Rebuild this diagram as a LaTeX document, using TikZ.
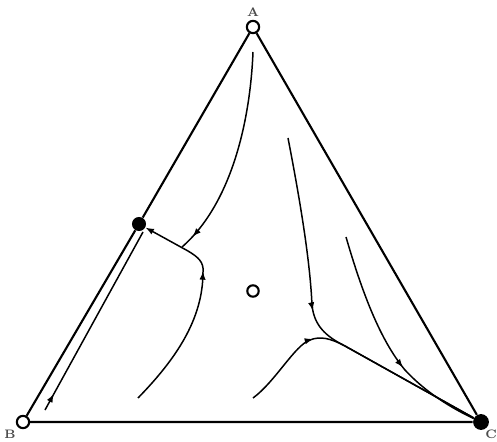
\documentclass[tikz,border=0pt]{standalone}
\usepackage{amsmath}
\usepackage{tikz}
\usetikzlibrary{calc,positioning,arrows.meta,decorations.markings}

\tikzset{
  opendot/.style={circle, draw, fill=white, line width=1.2pt, inner sep=0pt, minimum size=7pt},
  fulldot/.style={circle, fill=black, inner sep=0pt, minimum size=9pt},
  cornerlabel/.style={font=\scriptsize\bfseries, text=black!70, inner sep=0pt},
  simplexedge/.style={line width=1.2pt},
  flow/.style={line width=0.85pt},
  tip/.style={-{Latex[length=4.8pt,width=3.6pt]}},
  flowtip/.style={postaction={decorate}, decoration={markings,
      mark=at position #1 with {\arrow{Latex[length=4.8pt,width=3.6pt]}}}},
}

\begin{document}
\begin{tikzpicture}[x=0.02cm, y=-0.02cm]
\useasboundingbox (0,0) rectangle (497,442);

% corners of the simplex
\node[opendot] (vA) at (253,27) {};
\node[opendot] (vB) at (23,422) {};
\node[fulldot] (vC) at (481,422) {};
\node[fulldot, minimum size=8pt] (mAB) at (139,224) {};
\node[opendot, minimum size=6.5pt] (ctr) at (253,291) {};

\node[cornerlabel] (lA) at (253,12) {A};
\node[cornerlabel] (lB) at (10,434) {B};
\node[cornerlabel] (lC) at (491,434) {C};

% free ends of the trajectories
\coordinate (s1) at (253,52);
\coordinate (s2) at (138,398);
\coordinate (s3) at (45,410);
\coordinate (e3) at (143,232);
\coordinate (s4) at (288,138);
\coordinate (s5) at (253,398);
\coordinate (s6) at (346,237);
\coordinate (m1) at (182,247);

% edges
\draw[simplexedge] (vA) -- (mAB) -- (vB) -- (vC) -- (vA);

% trajectories
\draw[flow, flowtip=0.93] (s1) .. controls (250,125) and (230,205) .. (m1);
\draw[flow, tip, flowtip=0.66] (s2) .. controls (175,360) and (203,320) .. (203,272)
  .. controls (204,262) and (198,257) .. (188,251) -- (mAB);
\draw[flow, flowtip=0.09] (s3) -- (e3);
\draw[flow, flowtip=0.47] (s4) .. controls (300,200) and (310,260) .. (312,305)
  .. controls (314,325) and (325,336) .. (345,346) -- (vC);
\draw[flow, flowtip=0.32] (s5) .. controls (275,382) and (295,345) .. (310,340)
  .. controls (320,336) and (330,338) .. (345,346) -- (vC);
\draw[flow, flowtip=0.62] (s6) .. controls (362,292) and (380,340) .. (405,370)
  .. controls (430,397) and (460,412) .. (vC);
\end{tikzpicture}
\end{document}
